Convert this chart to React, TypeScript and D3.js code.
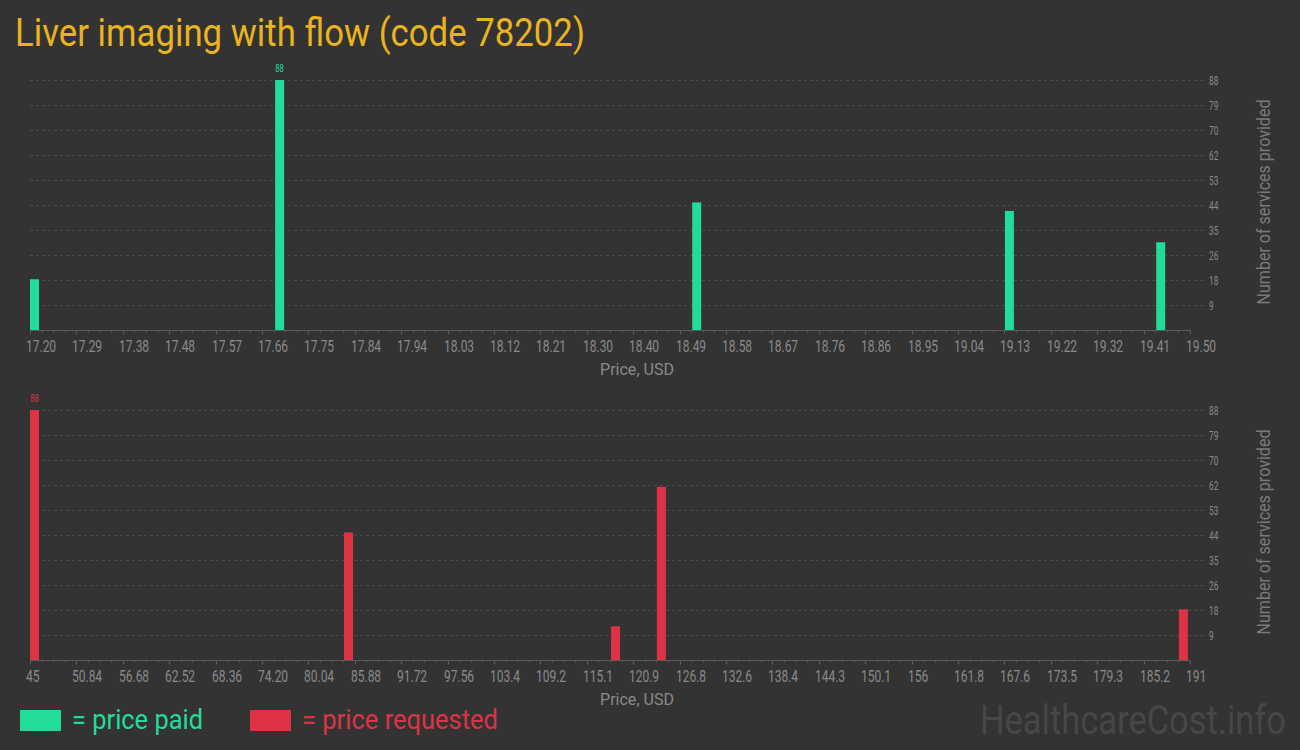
import React from "react";
import * as d3 from "d3";

const titleText = "Liver imaging with flow (code 78202)";

// Price paid (top chart)
const paidPrices = [17.2, 17.686, 18.513, 19.133, 19.433];
const paidCounts = [18, 88, 45, 42, 31];
const paidTickLabels = [
  "17.20", "17.29", "17.38", "17.48", "17.57", "17.66", "17.75", "17.84", "17.94",
  "18.03", "18.12", "18.21", "18.30", "18.40", "18.49", "18.58", "18.67", "18.76",
  "18.86", "18.95", "19.04", "19.13", "19.22", "19.32", "19.41", "19.50",
];

// Price requested (bottom chart)
const reqPrices = [45, 84.52, 118.13, 123.9, 189.6];
const reqCounts = [88, 45, 12, 61, 18];
const reqTickLabels = [
  "45", "50.84", "56.68", "62.52", "68.36", "74.20", "80.04", "85.88", "91.72",
  "97.56", "103.4", "109.2", "115.1", "120.9", "126.8", "132.6", "138.4", "144.3",
  "150.1", "156", "161.8", "167.6", "173.5", "179.3", "185.2", "191",
];

const yTickLabels = ["9", "18", "26", "35", "44", "53", "62", "70", "79", "88"];
const yMax = 88;

const BG = "#333333";
const GREEN = "#22dc9a";
const RED = "#dd3344";
const GOLD = "#e9b41d";
const TICK_TEXT = "#8a8a8a";
const AXIS = "#5a5a5a";
const GRID = "#4b4b4b";
const FONT = "Roboto, 'Noto Sans', sans-serif";

type PanelProps = {
  prices: number[];
  counts: number[];
  tickLabels: string[];
  color: string;
  top: number;
};

function Panel({ prices, counts, tickLabels, color, top }: PanelProps) {
  const left = 30;
  const right = 1190;
  const plotTop = top;
  const plotBottom = top + 250.5;
  const dom0 = parseFloat(tickLabels[0]);
  const dom1 = parseFloat(tickLabels[tickLabels.length - 1]);
  const x = d3.scaleLinear().domain([dom0, dom1]).range([left, right]);
  const y = d3.scaleLinear().domain([0, yMax]).range([plotBottom, plotTop]);
  const step = (dom1 - dom0) / (tickLabels.length - 1);
  const majorVals = tickLabels.map((_, i) => dom0 + i * step);
  const minorVals: number[] = [];
  for (let i = 0; i < majorVals.length - 1; i++) {
    for (let k = 1; k < 4; k++) minorVals.push(majorVals[i] + (step * k) / 4);
  }
  const barW = 9;
  const maxIdx = counts.indexOf(d3.max(counts) as number);
  return (
    <g>
      {yTickLabels.map((lab, i) => {
        const yy = Math.round(y(((i + 1) * yMax) / 10)) + 0.5;
        return (
          <g key={"g" + i}>
            <line x1={left} x2={1205} y1={yy} y2={yy} stroke={GRID} strokeDasharray="3,3" strokeWidth={1} />
            <text
              transform={`translate(1209,${yy + 4}) scale(0.66,1)`}
              fill={TICK_TEXT}
              fontSize={12.5}
              fontFamily={FONT}
            >
              {lab}
            </text>
          </g>
        );
      })}
      {prices.map((p, i) => (
        <rect
          key={"b" + i}
          x={x(p)}
          y={y(counts[i])}
          width={barW}
          height={plotBottom - y(counts[i])}
          fill={color}
        />
      ))}
      <text
        transform={`translate(${x(prices[maxIdx]) + barW / 2},${y(counts[maxIdx]) - 8}) scale(0.66,1)`}
        textAnchor="middle"
        fill={color}
        fontSize={11.5}
        fontFamily={FONT}
      >
        {counts[maxIdx]}
      </text>
      <line x1={left} x2={right} y1={plotBottom} y2={plotBottom} stroke={AXIS} strokeWidth={1} />
      {minorVals.map((v, i) => (
        <line key={"m" + i} x1={Math.round(x(v)) + 0.5} x2={Math.round(x(v)) + 0.5} y1={plotBottom} y2={plotBottom + 2} stroke={AXIS} />
      ))}
      {tickLabels.map((lab, i) => {
        const xx = Math.round(x(majorVals[i])) + 0.5;
        return (
          <g key={"t" + i}>
            <line x1={xx} x2={xx} y1={plotBottom} y2={plotBottom + 4} stroke={AXIS} />
            <text
              transform={`translate(${xx - 4.5},${plotBottom + 21.5}) scale(0.75,1)`}
              fill={TICK_TEXT}
              fontSize={16}
              fontFamily={FONT}
            >
              {lab}
            </text>
          </g>
        );
      })}
      <text
        x={637}
        y={plotBottom + 44}
        textAnchor="middle"
        fill={TICK_TEXT}
        fontSize={16}
        fontFamily={FONT}
        textLength={74}
        lengthAdjust="spacingAndGlyphs"
      >
        Price, USD
      </text>
      <text
        transform={`translate(1270,${plotTop + 122}) rotate(-90)`}
        textAnchor="middle"
        fill="#7a7a7a"
        fontSize={19}
        fontFamily={FONT}
        textLength={205}
        lengthAdjust="spacingAndGlyphs"
      >
        Number of services provided
      </text>
    </g>
  );
}

export default function App() {
  return (
    <svg width={1300} height={750} style={{ position: "absolute", left: 0, top: 0, background: BG }}>
      <rect x={0} y={0} width={1300} height={750} fill={BG} />
      <text
        x={15}
        y={46}
        fill={GOLD}
        fontSize={39}
        fontFamily={FONT}
        textLength={570}
        lengthAdjust="spacingAndGlyphs"
      >
        {titleText}
      </text>
      <Panel prices={paidPrices} counts={paidCounts} tickLabels={paidTickLabels} color={GREEN} top={80} />
      <Panel prices={reqPrices} counts={reqCounts} tickLabels={reqTickLabels} color={RED} top={410} />
      <rect x={20} y={710} width={41} height={21} fill={GREEN} />
      <text x={72} y={729} fill={GREEN} fontSize={27} fontFamily={FONT} textLength={131} lengthAdjust="spacingAndGlyphs">
        = price paid
      </text>
      <rect x={250} y={710} width={41} height={21} fill={RED} />
      <text x={302} y={729} fill={RED} fontSize={27} fontFamily={FONT} textLength={196} lengthAdjust="spacingAndGlyphs">
        = price requested
      </text>
      <text x={980} y={734} fill="#474747" fontSize={41} fontFamily={FONT} textLength={306} lengthAdjust="spacingAndGlyphs">
        HealthcareCost.info
      </text>
    </svg>
  );
}
